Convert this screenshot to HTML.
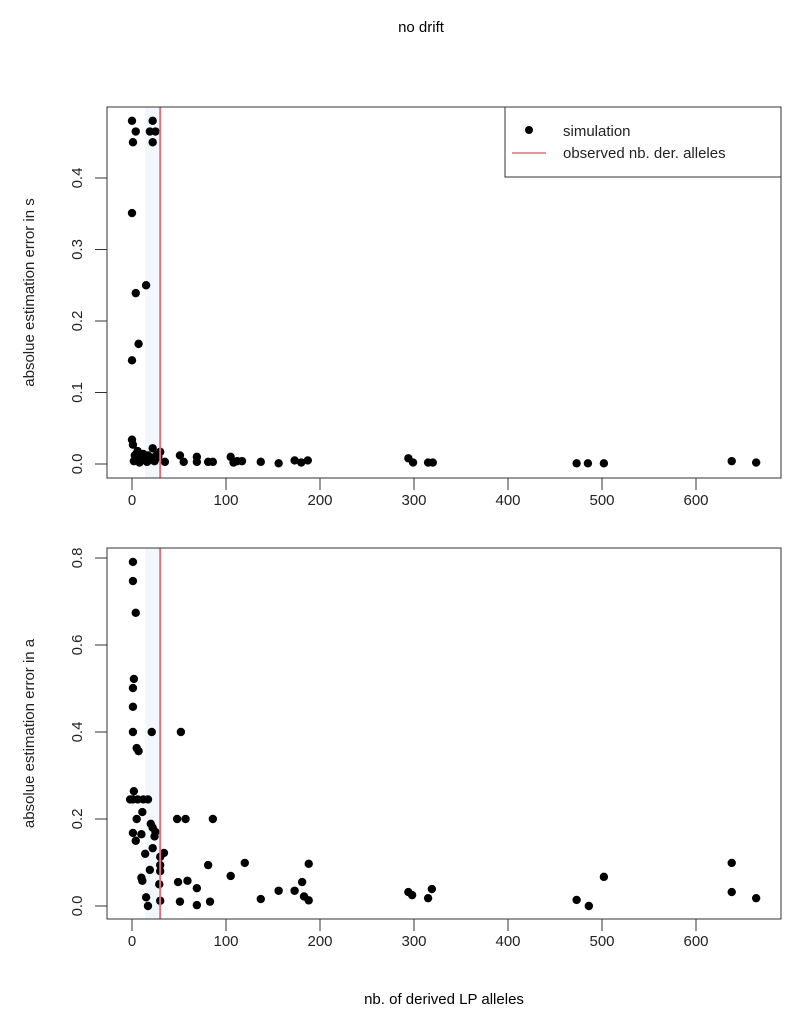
<!DOCTYPE html>
<html><head><meta charset="utf-8"><style>
body{margin:0;background:#fff;}
svg{display:block;font-family:"Liberation Sans",sans-serif;}
</style></head><body>
<svg id="chart" width="800" height="1027" viewBox="0 0 800 1027">
<text x="421" y="32" font-size="15" text-anchor="middle">no drift</text>
<text x="444" y="1004" font-size="15" text-anchor="middle">nb. of derived LP alleles</text>
</svg>
<script>
const xTicks=[0,100,200,300,400,500,600];
const sTicks=[0,0.1,0.2,0.3,0.4];
const aTicks=[0,0.2,0.4,0.6,0.8];
const observed=30;
const bandStart=14;
const sX=[0,22,4,19,25,1,22,0,15,4,7,0,0,1,3,6,10,14,18,22,26,2,8,12,16,20,24,28,5,11,17,30,35,51,55,69,69,81,86,105,108,112,117,137,156,173,180,187,294,299,315,320,473,485,502,638,664];
const sY=[0.48,0.48,0.465,0.465,0.465,0.45,0.45,0.351,0.25,0.239,0.168,0.145,0.034,0.027,0.012,0.018,0.008,0.01,0.005,0.022,0.012,0.004,0.002,0.014,0.003,0.009,0.004,0.01,0.015,0.006,0.012,0.017,0.003,0.012,0.003,0.01,0.003,0.003,0.003,0.01,0.002,0.004,0.004,0.003,0.001,0.005,0.002,0.005,0.008,0.002,0.002,0.002,0.001,0.001,0.001,0.004,0.002];
const aX=[1,1,4,2,1,1,1,21,52,5,7,2,-2,1,6,12,17,11,5,48,57,86,20,22,25,1,10,4,24,22,34,14,30,30,30,19,10,11,81,120,188,105,49,59,69,29,181,173,156,183,188,137,15,17,30,51,69,83,294,298,315,319,473,486,502,638,638,664];
const aY=[0.791,0.747,0.674,0.522,0.501,0.458,0.4,0.4,0.4,0.363,0.356,0.264,0.245,0.245,0.245,0.245,0.245,0.216,0.2,0.2,0.2,0.2,0.189,0.18,0.17,0.168,0.165,0.15,0.16,0.133,0.122,0.12,0.113,0.094,0.08,0.083,0.065,0.058,0.094,0.099,0.097,0.069,0.055,0.058,0.041,0.05,0.055,0.035,0.035,0.022,0.013,0.016,0.02,0.0,0.012,0.01,0.002,0.01,0.032,0.025,0.018,0.039,0.014,0.0,0.067,0.099,0.032,0.018];

const NS='http://www.w3.org/2000/svg';
const svg=document.getElementById('chart');
function mk(tag,attrs,parent){const e=document.createElementNS(NS,tag);for(const k in attrs)e.setAttribute(k,attrs[k]);(parent||svg).appendChild(e);return e;}
const xScale=v=>132+v*0.94;

function panel(name,top,bottom,y0px,yPerUnit,yTicks,xs,ys,yTitle,legend){
  const yScale=v=>y0px-v*yPerUnit;
  const g=mk('g',{});
  
  
  const band=mk('rect',{x:xScale(bandStart),y:top,width:xScale(observed)-xScale(bandStart),height:bottom-top,fill:'#f2f7fd'},g);
  
  
  xs.forEach((x,i)=>{
    const c=mk('circle',{cx:xScale(x),cy:yScale(ys[i]),r:4.2,fill:'#000'},g);
    
    
  });
  const ol=mk('line',{x1:xScale(observed),x2:xScale(observed),y1:top,y2:bottom,stroke:'#e0707a','stroke-width':2},g);
  
  
  const fr=mk('rect',{x:107,y:top,width:674,height:bottom-top,fill:'none',stroke:'#333','stroke-width':1},g);
  
  
  const xa=mk('g',{},g);
  
  
  mk('line',{x1:xScale(xTicks[0]),x2:xScale(xTicks[xTicks.length-1]),y1:bottom,y2:bottom,stroke:'#333'},xa);
  xTicks.forEach(t=>{
    mk('line',{x1:xScale(t),x2:xScale(t),y1:bottom,y2:bottom+12,stroke:'#333'},xa);
    const tx=mk('text',{x:xScale(t),y:bottom+27,'font-size':15,'text-anchor':'middle',fill:'#222'},xa);
    tx.textContent=t;
    
    
  });
  const ya=mk('g',{},g);
  
  
  yTicks.forEach(t=>{
    const y=yScale(t);
    mk('line',{x1:95,x2:107,y1:y,y2:y,stroke:'#333'},ya);
    const tx=mk('text',{x:0,y:0,'font-size':15,'text-anchor':'middle',fill:'#222',transform:`translate(82,${y}) rotate(-90)`},ya);
    tx.textContent=t.toFixed(1);
    
    
  });
  const yt=mk('text',{x:0,y:0,'font-size':15,'text-anchor':'middle',fill:'#222',transform:`translate(34,${(top+bottom)/2}) rotate(-90)`},g);
  yt.textContent=yTitle;
  
  
  if(legend){
    const lg=mk('g',{},g);
    
    
    mk('rect',{x:505,y:107,width:276,height:70,fill:'#fff',stroke:'#333'},lg);
    mk('circle',{cx:529,cy:130,r:4,fill:'#000'},lg);
    const t1=mk('text',{x:563,y:136,'font-size':15,fill:'#222'},lg);
    t1.textContent='simulation';
    
    
    mk('line',{x1:512,x2:546,y1:153,y2:153,stroke:'#e0707a','stroke-width':1.5},lg);
    const t2=mk('text',{x:563,y:158,'font-size':15,fill:'#222'},lg);
    t2.textContent='observed nb. der. alleles';
    
    
  }
}
panel('panel-s-error',107,478,464,715,sTicks,sX,sY,'absolue estimation error in s',true);
panel('panel-a-error',548,919,906,435,aTicks,aX,aY,'absolue estimation error in a',false);
</script>
</body></html>
